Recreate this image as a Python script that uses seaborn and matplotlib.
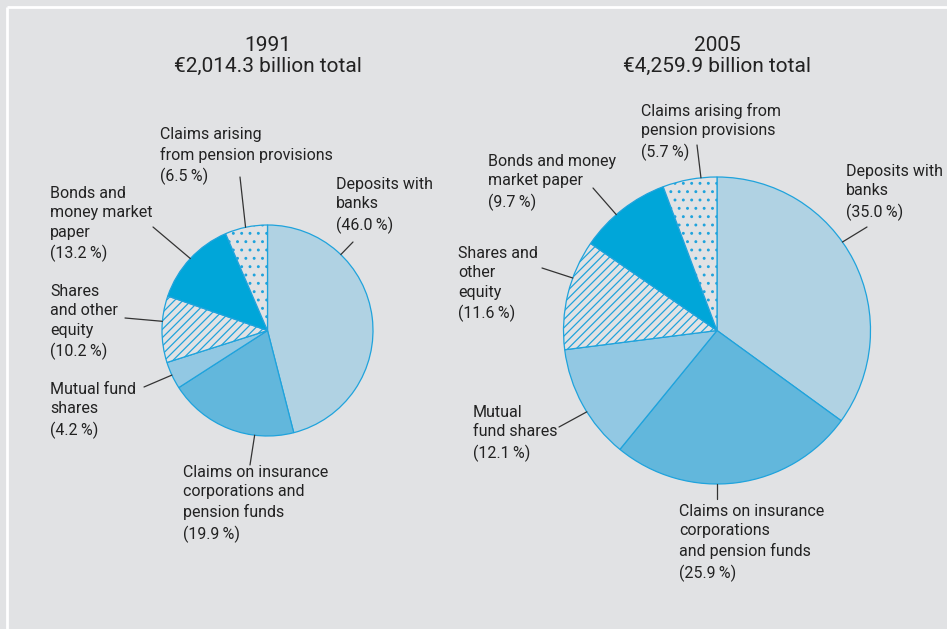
import numpy as np
import matplotlib
matplotlib.use("Agg")
import matplotlib.pyplot as plt
import seaborn as sns

# ---------------- data ----------------
categories = ["Deposits with banks",
              "Claims on insurance corporations and pension funds",
              "Mutual fund shares",
              "Shares and other equity",
              "Bonds and money market paper",
              "Claims arising from pension provisions"]
values_1991 = [46.0, 19.9, 4.2, 10.2, 13.2, 6.5]
values_2005 = [35.0, 25.9, 12.1, 11.6, 9.7, 5.7]
labels_1991 = ["Deposits with\nbanks",
               "Claims on insurance\ncorporations and\npension funds",
               "Mutual fund\nshares",
               "Shares\nand other\nequity",
               "Bonds and\nmoney market\npaper",
               "Claims arising\nfrom pension provisions"]
labels_2005 = ["Deposits with\nbanks",
               "Claims on insurance\ncorporations\nand pension funds",
               "Mutual\nfund shares",
               "Shares and\nother\nequity",
               "Bonds and money\nmarket paper",
               "Claims arising from\npension provisions"]
titles = ["1991\n€2,014.3 billion total", "2005\n€4,259.9 billion total"]

# ---------------- style ----------------
sns.set_theme(style="white")
BG = "#e1e2e4"
EDGE = "#1fa3dc"
TXT = "#222222"
plt.rcParams['font.family'] = ['Roboto', 'DejaVu Sans']
plt.rcParams['hatch.linewidth'] = 0.9

slice_colors = ["#b0d2e3", "#62b7dc", "#92c8e3", BG, "#00a6d9", BG]
slice_hatches = [None, None, None, "////", None, ".."]

W, H = 947, 629
fig = plt.figure(figsize=(W / 100, H / 100), dpi=100, facecolor=BG)
ax = fig.add_axes([0, 0, 1, 1])
ax.set_facecolor(BG)

def py(y):
    return H - y

pies = [
    dict(values=values_1991, labels=labels_1991, title=titles[0],
         center=(267.5, 330.5), radius=105.5,
         # (text x, text cap-top y, line-end x, line-end y, angle on pie cw from top)
         layout=[(336, 181, 353, 242, 44),
                 (183, 469, 250, 465, 187),
                 (50, 386, 144, 387, 245),
                 (50, 288, 125, 318, 275),
                 (50, 190, 153, 227, 313),
                 (160, 131, 240, 177, 348)]),
    dict(values=values_2005, labels=labels_2005, title=titles[1],
         center=(717, 330.5), radius=153.5,
         layout=[(846, 168, 867, 227, 54.8),
                 (679, 508, 717, 499, 180),
                 (473, 409, 559, 427, 238),
                 (458, 250, 542, 268, 290),
                 (488, 158, 593, 188, 319),
                 (641, 107, 697, 145, 354)]),
]

for p in pies:
    cx, cy = p["center"]
    wedges, _ = ax.pie(p["values"], colors=slice_colors, startangle=90,
                       counterclock=False, center=(cx, py(cy)),
                       radius=p["radius"], frame=True,
                       wedgeprops=dict(edgecolor=EDGE, linewidth=0.9))
    for w, h in zip(wedges, slice_hatches):
        if h:
            w.set_hatch(h)
    ax.text(cx, py(36), p["title"], ha="center", va="top", fontsize=15,
            color=TXT, linespacing=1.15)
    for lab, val, (tx, ty, lx, ly, ang) in zip(p["labels"], p["values"], p["layout"]):
        ax.text(tx, py(ty - 4), f"{lab}\n({val:.1f}\u2009%)", ha="left", va="top",
                fontsize=11.5, color=TXT, linespacing=1.37)
        a = np.deg2rad(ang)
        ex = cx + p["radius"] * np.sin(a)
        ey = cy - p["radius"] * np.cos(a)
        ax.plot([lx, ex], [py(ly), py(ey)], color="#333333", lw=0.9)

ax.set_xlim(0, W)
ax.set_ylim(0, H)
ax.set_aspect("auto")
ax.axis("off")

# white panel border (top/left)
ax.plot([7, 7], [0, H - 7], color="white", lw=2, solid_capstyle="butt")
ax.plot([7, W], [H - 7, H - 7], color="white", lw=2, solid_capstyle="butt")

fig.savefig("out.png", dpi=100, facecolor=BG)
